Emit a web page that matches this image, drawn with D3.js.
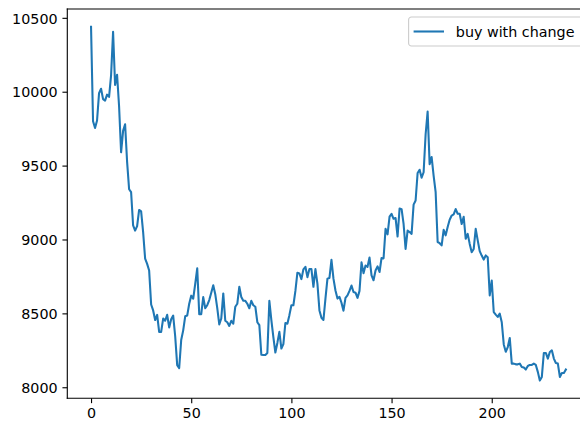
<!DOCTYPE html>
<html>
<head>
<meta charset="utf-8">
<script src="https://cdn.jsdelivr.net/npm/d3@7"></script>
<style>
  html, body { margin: 0; padding: 0; background: #fff; }
  svg { display: block; font-family: "DejaVu Sans", sans-serif; }
</style>
</head>
<body>
<svg id="chart" width="580" height="421"></svg>
<script>
// Series and axis configuration
const seriesName = "buy with change";
const values = [
  10440, 9800, 9755, 9805, 9990, 10020, 9950, 9940, 9980, 9965,
  10110, 10405, 10045, 10115, 9900, 9590, 9735, 9780, 9525, 9340,
  9320, 9095, 9060, 9090, 9200, 9190, 9050, 8870, 8835, 8790,
  8560, 8520, 8455, 8490, 8375, 8375, 8465, 8450, 8490, 8405,
  8460, 8485, 8345, 8150, 8130, 8320, 8385, 8480, 8485, 8565,
  8620, 8600, 8700, 8805, 8495, 8495, 8610, 8535, 8555, 8590,
  8640, 8690, 8630, 8535, 8425, 8465, 8635, 8450, 8440, 8415,
  8450, 8430, 8545, 8565, 8680, 8610, 8585, 8585, 8565, 8535,
  8585, 8555, 8545, 8440, 8420, 8220, 8218, 8218, 8232, 8585,
  8455, 8340, 8235, 8300, 8375, 8262, 8292, 8435, 8430, 8488,
  8555, 8555, 8652, 8775, 8770, 8732, 8798, 8815, 8745, 8800,
  8800, 8680, 8800, 8700, 8520, 8470, 8455, 8600, 8735, 8740,
  8862, 8735, 8655, 8600, 8612, 8572, 8518, 8605, 8622, 8652,
  8688, 8645, 8640, 8605, 8652, 8845, 8772, 8824, 8815, 8878,
  8757, 8724, 8790, 8818, 8780, 8875, 8872, 9072, 9035, 9155,
  9174, 9140, 9145, 9020, 9210, 9205, 9105, 8936, 9060, 9050,
  9038, 9236, 9264, 9450, 9472, 9418, 9455, 9712, 9866, 9510,
  9558, 9430, 9320, 8983, 8975, 8960, 9065, 9028, 9084, 9134,
  9162, 9170, 9206, 9174, 9174, 9105, 9154, 9005, 9038, 8970,
  8914, 8936, 9072, 8994, 8921, 8891, 8864, 8892, 8880, 8622,
  8722, 8509, 8492, 8476, 8498, 8440, 8290, 8240, 8272, 8333,
  8160, 8160, 8155, 8155, 8160, 8137, 8133, 8120, 8144, 8151,
  8151, 8160, 8151, 8104, 8045, 8070, 8232, 8232, 8194, 8239,
  8250, 8194, 8164, 8160, 8070, 8097, 8097, 8120
];
const xTicks = [0, 50, 100, 150, 200];
const yTicks = [8000, 8500, 9000, 9500, 10000, 10500];

const svg = d3.select("#chart");
const fontSize = 14.3;
const tickLen = 4.86;
const tickPad = 4.86;

// Plot area (right edge runs past the visible canvas)
const plot = { left: 67.3, top: 9, bottom: 398.3 };
const n = values.length;
const xPad = (n - 1) * 0.05;
const x = d3.scaleLinear()
  .domain([-xPad, (n - 1) + xPad])
  .range([plot.left, plot.left + (n - 1 + 2 * xPad) * 2.0035]);
plot.right = x.range()[1];

const [yMin, yMax] = d3.extent(values);
const yPad = (yMax - yMin) * 0.05;
const y = d3.scaleLinear()
  .domain([yMin - yPad, yMax + yPad])
  .range([plot.bottom, plot.top]);

svg.append("rect").attr("width", 580).attr("height", 421).attr("fill", "#fff");

svg.append("defs").append("clipPath").attr("id", "plotClip")
  .append("rect")
  .attr("x", plot.left).attr("y", plot.top)
  .attr("width", plot.right - plot.left).attr("height", plot.bottom - plot.top);

// Data line
const line = d3.line()
  .x((d, i) => x(i))
  .y(d => y(d));

svg.append("path")
  .datum(values)
  .attr("clip-path", "url(#plotClip)")
  .attr("fill", "none")
  .attr("stroke", "#1f77b4")
  .attr("stroke-width", 2.08)
  .attr("stroke-linejoin", "round")
  .attr("stroke-linecap", "square")
  .attr("d", line);

// Axes
const xAxis = d3.axisBottom(x)
  .tickValues(xTicks)
  .tickSize(tickLen)
  .tickPadding(tickPad)
  .tickFormat(d3.format("d"));

const yAxis = d3.axisLeft(y)
  .tickValues(yTicks)
  .tickSize(tickLen)
  .tickPadding(tickPad)
  .tickFormat(d3.format("d"));

const gx = svg.append("g")
  .attr("transform", `translate(0,${plot.bottom})`)
  .call(xAxis);
gx.select(".domain").remove();
gx.selectAll(".tick line").attr("stroke", "#000").attr("stroke-width", 1.11);
gx.selectAll(".tick text")
  .attr("fill", "#000")
  .attr("font-size", fontSize)
  .attr("font-family", "DejaVu Sans")
  .attr("dy", null)
  .attr("y", tickLen + tickPad + 10.4);

const gy = svg.append("g")
  .attr("transform", `translate(${plot.left},0)`)
  .call(yAxis);
gy.select(".domain").remove();
gy.selectAll(".tick line").attr("stroke", "#000").attr("stroke-width", 1.11);
gy.selectAll(".tick text")
  .attr("fill", "#000")
  .attr("font-size", fontSize)
  .attr("font-family", "DejaVu Sans")
  .attr("dy", null)
  .attr("y", 5.2);

// Spines
const spines = svg.append("g")
  .attr("fill", "none")
  .attr("stroke", "#000")
  .attr("stroke-width", 1.11)
  .attr("stroke-linecap", "square");
spines.append("line").attr("x1", plot.left).attr("x2", plot.left).attr("y1", plot.top).attr("y2", plot.bottom);
spines.append("line").attr("x1", plot.left).attr("x2", plot.right).attr("y1", plot.bottom).attr("y2", plot.bottom);
spines.append("line").attr("x1", plot.left).attr("x2", plot.right).attr("y1", plot.top).attr("y2", plot.top);
spines.append("line").attr("x1", plot.right).attr("x2", plot.right).attr("y1", plot.top).attr("y2", plot.bottom);

// Legend (upper right)
const legendW = 174, legendH = 29;
const legendX = plot.right - 7 - legendW;
const legendY = plot.top + 8;
const legend = svg.append("g").attr("transform", `translate(${legendX},${legendY})`);
legend.append("rect")
  .attr("width", legendW).attr("height", legendH)
  .attr("rx", 2.8).attr("ry", 2.8)
  .attr("fill", "#fff").attr("fill-opacity", 0.8)
  .attr("stroke", "#cccccc").attr("stroke-width", 1.11);
legend.append("line")
  .attr("x1", 413.6 - legendX).attr("x2", 444 - legendX)
  .attr("y1", legendH / 2).attr("y2", legendH / 2)
  .attr("stroke", "#1f77b4").attr("stroke-width", 2.08);
legend.append("text")
  .attr("x", 455.8 - legendX)
  .attr("y", legendH / 2 + 5.2)
  .attr("font-size", fontSize)
  .attr("font-family", "DejaVu Sans")
  .attr("fill", "#000")
  .text(seriesName);
</script>
</body>
</html>
